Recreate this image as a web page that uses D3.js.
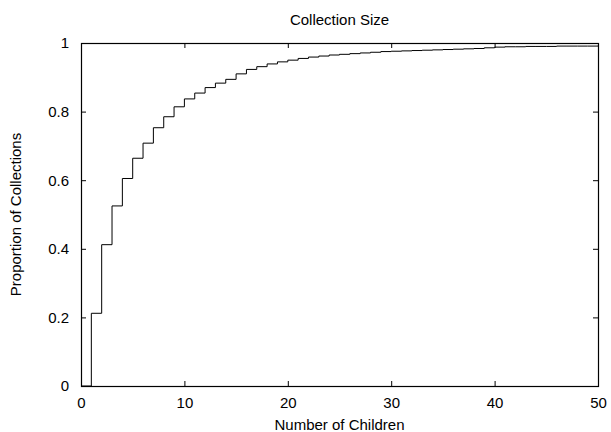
<!DOCTYPE html>
<html>
<head>
<meta charset="utf-8">
<title>Collection Size</title>
<style>
body { margin: 0; background: #fff; }
svg { display: block; font-family: "Liberation Sans", Arial, Helvetica, sans-serif; }
</style>
</head>
<body>
<div id="chart"></div>
<script src="https://d3js.org/d3.v7.min.js"></script>
<script>
// number of children -> cumulative proportion of collections
var children = [0, 1, 2, 3, 4, 5, 6, 7, 8, 9, 10,
  11, 12, 13, 14, 15, 16, 17, 18, 19, 20,
  21, 22, 23, 24, 25, 26, 27, 28, 29, 30,
  31, 32, 33, 34, 35, 36, 37, 38, 39, 40,
  41, 42, 43, 44, 45, 46, 47, 48, 49, 50];
var proportion = [0, 0.212, 0.412, 0.525, 0.605, 0.664, 0.708, 0.753, 0.785, 0.814, 0.837,
  0.854, 0.870, 0.883, 0.894, 0.910, 0.923, 0.931, 0.939, 0.945, 0.950,
  0.955, 0.959, 0.962, 0.965, 0.967, 0.969, 0.971, 0.973, 0.975, 0.976,
  0.977, 0.978, 0.979, 0.980, 0.981, 0.982, 0.983, 0.984, 0.986, 0.988,
  0.989, 0.989, 0.990, 0.990, 0.990, 0.991, 0.991, 0.991, 0.991, 0.992];

var xTicks = [0, 10, 20, 30, 40, 50];
var yTicks = [0, 0.2, 0.4, 0.6, 0.8, 1];
var yTickLabels = ["0", "0.2", "0.4", "0.6", "0.8", "1"];

var W = 611, H = 432;
var margin = {top: 43, right: 13, bottom: 46, left: 81};
var width = W - margin.left - margin.right,
    height = H - margin.top - margin.bottom;

var svg = d3.select("#chart").append("svg")
  .attr("width", W)
  .attr("height", H);

var g = svg.append("g")
  .attr("transform", "translate(" + margin.left + "," + margin.top + ")");

var x = d3.scaleLinear().domain([0, 50]).range([0, width]);
var y = d3.scaleLinear().domain([0, 1]).range([height, 0]);

// axes, ticks pointing inward like gnuplot
var fontSize = "15px";
function styleAxis(sel) {
  sel.select(".domain").remove();
  sel.selectAll(".tick line").attr("stroke", "#000");
  sel.selectAll("text").attr("fill", "#000").style("font-size", fontSize);
}

g.append("g")
  .attr("transform", "translate(0," + height + ")")
  .call(d3.axisBottom(x).tickValues(xTicks).tickSize(-5).tickPadding(11).tickFormat(d3.format("d")))
  .call(styleAxis);

g.append("g")
  .call(d3.axisTop(x).tickValues(xTicks).tickSize(-5).tickFormat(""))
  .call(styleAxis);

g.append("g")
  .call(d3.axisLeft(y).tickValues(yTicks).tickSize(-5).tickPadding(12)
    .tickFormat(function(d, i) { return yTickLabels[i]; }))
  .call(styleAxis);

g.append("g")
  .attr("transform", "translate(" + width + ",0)")
  .call(d3.axisRight(y).tickValues(yTicks).tickSize(-5).tickFormat(""))
  .call(styleAxis);

// step line
var pts = children.map(function(c, i) { return [c, proportion[i]]; });
var line = d3.line()
  .x(function(d) { return x(d[0]); })
  .y(function(d) { return y(d[1]); })
  .curve(d3.curveStepAfter);

g.append("path")
  .datum(pts)
  .attr("fill", "none")
  .attr("stroke", "#000")
  .attr("stroke-width", 1)
  .attr("d", line);

// border
g.append("rect")
  .attr("x", 0.5).attr("y", 0.5)
  .attr("width", width).attr("height", height)
  .attr("fill", "none")
  .attr("stroke", "#000")
  .attr("stroke-width", 1.2);

// titles
svg.append("text")
  .attr("x", margin.left + width / 2)
  .attr("y", 25)
  .attr("text-anchor", "middle")
  .style("font-size", fontSize)
  .text("Collection Size");

svg.append("text")
  .attr("x", margin.left + width / 2)
  .attr("y", 430)
  .attr("text-anchor", "middle")
  .style("font-size", fontSize)
  .text("Number of Children");

svg.append("text")
  .attr("transform", "translate(21," + (margin.top + height / 2) + ") rotate(-90)")
  .attr("text-anchor", "middle")
  .style("font-size", fontSize)
  .text("Proportion of Collections");
</script>
</body>
</html>
